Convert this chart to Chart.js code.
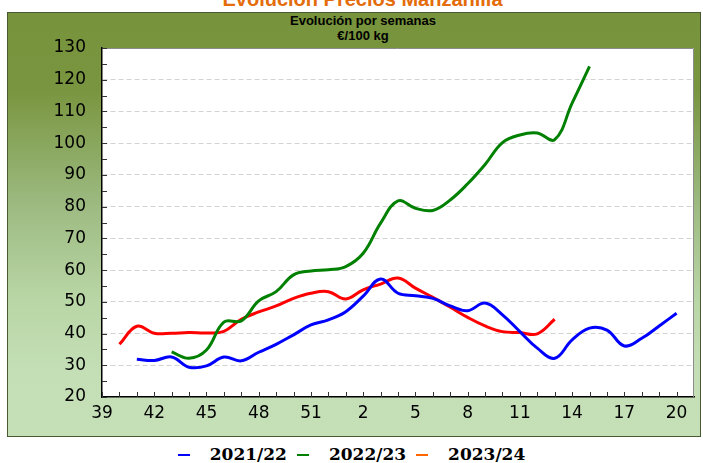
<!DOCTYPE html>
<html>
<head>
<meta charset="utf-8">
<script src="https://cdn.jsdelivr.net/npm/chart.js@4.4.1/dist/chart.umd.min.js"></script>
<style>
  html, body { margin: 0; padding: 0; background: #fff; width: 703px; height: 463px; overflow: hidden; position: relative; }
  #ttl { position: absolute; left: 0; width: 725px; top: -12px; text-align: center; line-height: 20px;
         font: bold 20px 'Liberation Sans', Arial, sans-serif; color: #E46C0A; }
  #panel { position: absolute; left: 7px; top: 12px; width: 692px; height: 423px; border: 1px solid #4a5a30;
           background: linear-gradient(to bottom, #77933C 0%, #79953F 18%, #9CBA80 45%, #B9D6A6 68%, #C4DFB6 85%, #C5DFB7 100%); }
  #sub { position: absolute; left: 0; width: 710px; top: 0px; text-align: center;
         font: bold 13px 'Liberation Sans', Arial, sans-serif; line-height: 15px; color: #000; }
  #chart { position: absolute; left: 0; top: 0; }
  #legend { position: absolute; left: 0; width: 703px; top: 444px; text-align: center;
            font: bold 17px 'DejaVu Serif', serif; color: #000; white-space: nowrap; }
  #legend span.it { display: inline-block; margin: 0 5px; }
  #legend i { display: inline-block; width: 12px; height: 2px; vertical-align: middle; margin-right: 20px; position: relative; top: -1px; }
</style>
</head>
<body>
<div id="ttl">Evolución Precios Manzanilla</div>
<div id="panel">
  <div id="sub">Evolución por semanas<br>€/100 kg</div>
  <canvas id="chart" width="692" height="423"></canvas>
</div>
<div id="legend"></div>

<script>
// week numbers of the campaign (week 39 .. week 21 of next year)
const weeks = ['39','40','41','42','43','44','45','46','47','48','49','50','51','52',
               '1','2','3','4','5','6','7','8','9','10','11','12','13','14','15','16','17','18','19','20','21'];

const seriesNames = ['2021/22', '2022/23', '2023/24'];
const lineColors = ['#0000FF', '#008000', '#FF0000'];
const legendColors = ['#0000FF', '#008000', '#FF6600'];

// €/100 kg, null where no quote
const s2122 = [null, null, 31.9, 31.5, 32.6, 29.4, 29.8, 32.6, 31.4, 34.1, 36.6, 39.6, 42.7, 44.3,
               46.9, 51.8, 57.2, 52.7, 51.9, 51.1, 48.7, 47.2, 49.6, 45.9, 40.6, 35.4, 32.2, 38.0, 41.7, 41.1, 36.1, 38.5, 42.4, 46.4, null];
const s2223 = [null, null, null, null, 34.2, 32.2, 34.8, 43.6, 44.0, 50.3, 53.2, 58.5, 59.7, 60.1,
               61.1, 65.3, 74.8, 81.8, 79.5, 78.8, 82.1, 87.2, 93.3, 100.2, 102.6, 103.2, 101.1, 112.6, 124.2, null, null, null, null, null, null];
const s2324 = [null, 36.6, 42.3, 40.1, 40.1, 40.3, 40.2, 40.7, 44.5, 46.8, 48.7, 51.1, 52.7, 53.2,
               50.9, 53.8, 55.6, 57.5, 54.3, 51.4, 48.3, 45.1, 42.4, 40.6, 40.3, 39.9, 44.5, null, null, null, null, null, null, null, null];

const yMin = 20, yMax = 130, yStep = 5;

// legend (outside the green panel)
document.getElementById('legend').innerHTML = seriesNames.map((n, i) =>
  `<span class="it"><i style="background:${legendColors[i]}"></i>${n}</span>`).join('');

// white plot area, frame + short inward tick marks
const framePlugin = {
  id: 'frame',
  beforeDraw(chart) {
    const { ctx, chartArea: a } = chart;
    ctx.save();
    ctx.fillStyle = '#fff';
    ctx.fillRect(a.left, a.top, a.right - a.left, a.bottom - a.top);
    ctx.restore();
  },
  beforeDatasetsDraw(chart) {
    const { ctx, chartArea: a, scales: { x, y } } = chart;
    ctx.save();
    ctx.strokeStyle = '#8c8c8c';
    ctx.lineWidth = 1;
    ctx.beginPath();
    ctx.moveTo(a.left, a.top + 0.5);
    ctx.lineTo(a.right - 0.5, a.top + 0.5);
    ctx.lineTo(a.right - 0.5, a.bottom);
    ctx.stroke();

    ctx.strokeStyle = '#333';
    ctx.beginPath();
    for (let v = yMin; v <= yMax; v += yStep) {
      const py = Math.round(y.getPixelForValue(v)) + 0.5;
      ctx.moveTo(a.left, py);
      ctx.lineTo(a.left + 5, py);
    }
    for (let i = 0; i < weeks.length - 1; i++) {
      const px = Math.round(x.getPixelForValue(i)) + 0.5;
      ctx.moveTo(px, a.bottom);
      ctx.lineTo(px, a.bottom - 5);
    }
    ctx.stroke();
    ctx.restore();
  }
};

const mk = (label, data, color) => ({
  label, data,
  borderColor: color,
  backgroundColor: color,
  borderWidth: 3,
  pointRadius: 0,
  tension: 0.4,
  fill: false,
  spanGaps: false
});

new Chart(document.getElementById('chart').getContext('2d'), {
  type: 'line',
  data: {
    labels: weeks,
    datasets: [
      mk(seriesNames[0], s2122, lineColors[0]),
      mk(seriesNames[1], s2223, lineColors[1]),
      mk(seriesNames[2], s2324, lineColors[2])
    ]
  },
  options: {
    responsive: false,
    animation: false,
    devicePixelRatio: 1,
    layout: { padding: { top: 35, right: 5, left: 0, bottom: 0 } },
    plugins: {
      legend: { display: false },
      tooltip: { enabled: false },
      title: { display: false }
    },
    scales: {
      x: {
        type: 'category',
        offset: false,
        grid: { display: false, drawTicks: false },
        border: { display: true, color: '#000', width: 1.5 },
        ticks: {
          autoSkip: false,
          maxRotation: 0,
          padding: 6,
          color: '#000',
          font: { family: "'DejaVu Sans', sans-serif", size: 17 },
          callback: (v, i) => (i % 3 === 0 ? weeks[i] : '')
        },
        afterFit: s => { s.height = 39; }
      },
      y: {
        min: yMin,
        max: yMax,
        grid: {
          drawTicks: false,
          color: c => (c.tick && c.tick.value % 10 === 0 && c.tick.value > yMin && c.tick.value < yMax) ? '#d2d2d2' : 'transparent',
          lineWidth: 1
        },
        border: { display: true, color: '#000', width: 1.5, dash: [5, 3] },
        ticks: {
          stepSize: yStep,
          padding: 16,
          color: '#000',
          font: { family: "'DejaVu Sans', sans-serif", size: 17 },
          callback: v => (v % 10 === 0 ? v : '')
        },
        afterFit: s => { s.width = 94; }
      }
    }
  },
  plugins: [framePlugin]
});
</script>
</body>
</html>
